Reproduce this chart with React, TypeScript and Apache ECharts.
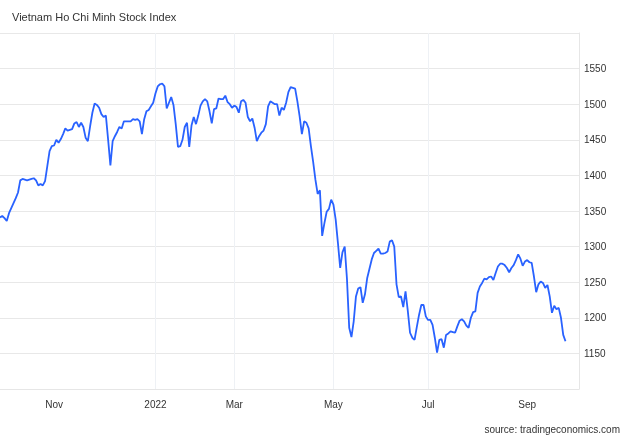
import React, { useEffect, useRef } from 'react';
import * as echarts from 'echarts';

const title = 'Vietnam Ho Chi Minh Stock Index';
const source = 'source: tradingeconomics.com';

// Daily closes, one per trading session (session 0 = late Sep 2021)
const closes = [
  1341, 1343, 1340, 1336, 1347, 1354, 1361, 1368, 1376, 1393,
  1395, 1394, 1393, 1394, 1395, 1396, 1393, 1386, 1388, 1386,
  1392, 1413, 1434, 1441, 1442, 1450, 1446, 1451, 1458, 1466,
  1463, 1464, 1465, 1473, 1475, 1468, 1474, 1468, 1453, 1448,
  1469, 1488, 1501, 1499, 1495, 1486, 1482, 1484, 1450, 1414,
  1448, 1455, 1461, 1468, 1466, 1476, 1476, 1476, 1476, 1479,
  1478, 1479, 1476, 1458, 1479, 1490, 1492, 1497, 1502, 1515,
  1525, 1528, 1529, 1525, 1494, 1502, 1510, 1499, 1472, 1440,
  1441, 1450, 1468, 1474, 1440, 1470, 1482, 1472, 1484, 1498,
  1504, 1507, 1504, 1490, 1473, 1493, 1494, 1508, 1507, 1507,
  1512, 1503, 1500, 1495, 1498, 1496, 1488, 1504, 1506, 1502,
  1482, 1476, 1480, 1467, 1448, 1455, 1460, 1463, 1472, 1497,
  1504, 1502, 1500, 1500, 1484, 1495, 1492, 1502, 1517, 1524,
  1523, 1522, 1504, 1483, 1458, 1476, 1474, 1466, 1441, 1419,
  1394, 1374, 1379, 1315, 1333, 1349, 1353, 1366, 1359, 1338,
  1305, 1270, 1292, 1300, 1255, 1186, 1173, 1195, 1230, 1241,
  1243, 1221, 1233, 1256, 1269, 1282, 1291, 1294, 1297, 1290,
  1290, 1291, 1293, 1307, 1309, 1300, 1247, 1229, 1230, 1215,
  1237, 1210, 1179, 1172, 1169, 1187, 1204, 1218, 1218, 1202,
  1197, 1197, 1190, 1172, 1151, 1169, 1170, 1158, 1176, 1178,
  1181, 1180, 1179, 1188, 1196, 1198, 1195, 1189, 1186, 1200,
  1208, 1209, 1235, 1244, 1249, 1255, 1254, 1257, 1258, 1253,
  1263, 1272, 1276, 1276, 1274, 1270, 1264, 1270, 1274, 1281,
  1289, 1283, 1273, 1279, 1281, 1278, 1277, 1258, 1236, 1247,
  1251, 1249, 1242, 1246, 1230, 1207, 1217, 1212, 1214, 1200,
  1176, 1167,
];

// First trading session of the labelled months
const monthTickSessions = [24, 69, 104, 148, 190, 234];
const monthTickLabels = ['Nov', '2022', 'Mar', 'May', 'Jul', 'Sep'];

const lastSession = 257;
const yMin = 1100;
const yMax = 1600;
const yStep = 50;

const FONT = "Arial, 'Liberation Sans', Helvetica, sans-serif";

export default function App() {
  const ref = useRef<HTMLDivElement>(null);

  useEffect(() => {
    const chart = echarts.init(ref.current!, null, { renderer: 'svg' });
    chart.setOption({
      animation: false,
      title: {
        text: title,
        left: 7,
        top: 6,
        textStyle: { fontSize: 11, fontWeight: 'normal', color: '#333', fontFamily: FONT },
      },
      graphic: [
        {
          type: 'text',
          right: 10,
          top: 424,
          style: { text: source, fontSize: 10, fill: '#333', fontFamily: FONT },
        },
      ],
      grid: { left: 0, right: 51, top: 33, bottom: 48, containLabel: false },
      xAxis: {
        type: 'value',
        min: 0,
        max: lastSession,
        axisLine: { show: true, onZero: false, lineStyle: { color: '#e6e6e6' } },
        axisTick: { show: false, customValues: monthTickSessions },
        axisLabel: {
          customValues: monthTickSessions,
          formatter: (v: number) => {
            const k = monthTickSessions.indexOf(Math.round(v));
            return k >= 0 ? monthTickLabels[k] : '';
          },
          color: '#333',
          fontSize: 10,
          fontFamily: FONT,
          margin: 10,
        },
        splitLine: {
          show: true,
          showMinLine: false,
          showMaxLine: false,
          lineStyle: { color: '#eef1f5' },
        },
      },
      yAxis: {
        type: 'value',
        position: 'right',
        min: yMin,
        max: yMax,
        interval: yStep,
        axisLine: { show: true, onZero: false, lineStyle: { color: '#e6e6e6' } },
        axisTick: { show: false },
        axisLabel: {
          showMinLabel: false,
          showMaxLabel: false,
          margin: 5,
          color: '#333',
          fontSize: 10,
          fontFamily: FONT,
          formatter: (v: number) => String(v),
        },
        splitLine: { show: true, lineStyle: { color: '#e8e8e8' } },
      },
      series: [
        {
          type: 'line',
          data: closes.map((v, i) => [i, v]),
          showSymbol: false,
          lineStyle: { color: '#2962ff', width: 1.8 },
          itemStyle: { color: '#2962ff' },
        },
      ],
    });
    return () => chart.dispose();
  }, []);

  return (
    <div
      ref={ref}
      style={{ position: 'fixed', left: 0, top: 0, width: 630, height: 437 }}
    />
  );
}
